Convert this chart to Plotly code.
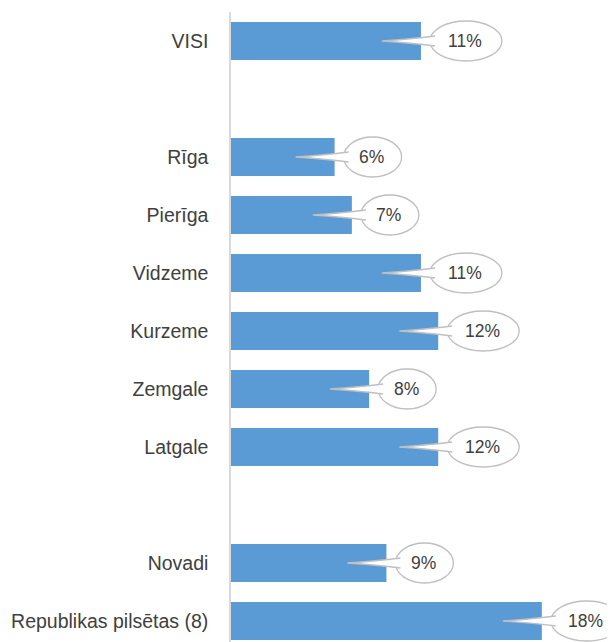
import plotly.graph_objects as go

# rows top to bottom, empty strings are the spacer rows
categories = ['VISI', '', 'Rīga', 'Pierīga', 'Vidzeme', 'Kurzeme', 'Zemgale', 'Latgale', '', 'Novadi', 'Republikas pilsētas (8)']
values = [11, None, 6, 7, 11, 12, 8, 12, None, 9, 18]
labels = ['11%', '', '6%', '7%', '11%', '12%', '8%', '12%', '', '9%', '18%']

BAR = '#5B9BD5'
GREY = '#BFBFBF'
TXT = '#404040'
FONT = 'Liberation Sans, Arial'

rows = list(range(len(categories)))

fig = go.Figure()
fig.add_trace(go.Bar(
    x=values, y=rows, orientation='h',
    marker=dict(color=BAR, line=dict(width=0)),
    width=0.655, hoverinfo='skip',
))

shapes = []
annotations = []
for r, v, lab in zip(rows, values, labels):
    if v is None:
        continue
    half = 36 if len(lab) > 2 else 29
    cx = 9 + half
    # bubble
    shapes.append(dict(
        type='circle', xref='x', yref='y', xsizemode='pixel', ysizemode='pixel',
        xanchor=v, yanchor=r, x0=cx - half, x1=cx + half, y0=-20, y1=20,
        fillcolor='white', line=dict(color=GREY, width=1.3), layer='above',
    ))
    # pointer
    shapes.append(dict(
        type='path', xref='x', yref='y', xsizemode='pixel', ysizemode='pixel',
        xanchor=v, yanchor=r,
        path='M 14,5 Q -10,2 -39,0 Q -10,-2 14,-5',
        fillcolor='white', line=dict(color=GREY, width=1.3), layer='above',
    ))
    annotations.append(dict(
        x=v, y=r, xref='x', yref='y', text=lab, showarrow=False,
        xshift=cx - 1, xanchor='center', yanchor='middle',
        font=dict(family=FONT, size=17.5, color=TXT),
    ))

# page body has an 8px margin, so the layout is offset by it
fig.update_layout(
    width=615, height=642,
    margin=dict(l=223, r=0, t=4, b=0),
    plot_bgcolor='white', paper_bgcolor='white',
    showlegend=False,
    shapes=shapes, annotations=annotations,
    font=dict(family=FONT, size=19.5, color=TXT),
)
fig.update_xaxes(range=[0, 22.7], visible=False, showgrid=False, zeroline=False)
fig.update_yaxes(
    range=[10.5, -0.5], tickmode='array', tickvals=rows, ticktext=categories,
    showgrid=False, zeroline=False, showline=True, linecolor='#D9D9D9', linewidth=1.5,
    ticks='', ticklabelstandoff=17, automargin=False,
)

fig.write_html('out.html')
